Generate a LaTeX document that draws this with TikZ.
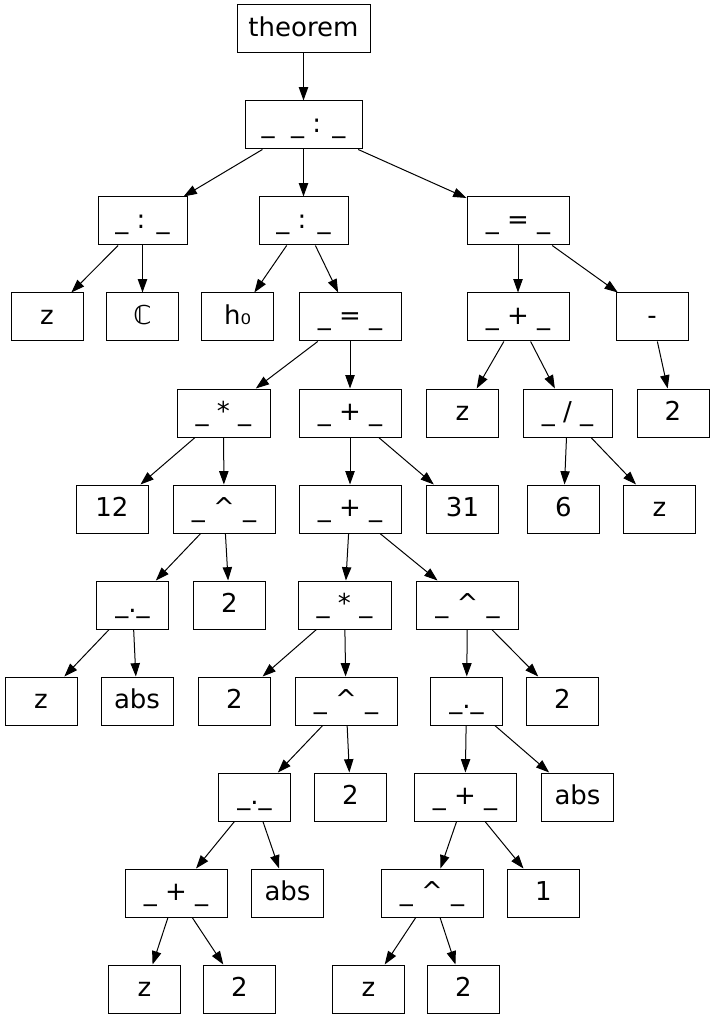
\documentclass[tikz,border=0pt]{standalone}
\usepackage{fontspec}
\setmainfont{DejaVu Sans}
\usetikzlibrary{arrows.meta}
\newcommand\us{\char"5F\relax}
\newcommand\crt{\char"5E\relax}
\tikzset{
  bx/.style={draw, line width=0.75pt, minimum height=36pt, inner sep=0pt,
    text height=15.6pt, text depth=4.3pt,
    font=\fontsize{19.5pt}{23pt}\selectfont, minimum width=54pt},
  w89/.style={minimum width=66.75pt},
  w93/.style={minimum width=69.75pt},
  w102/.style={minimum width=76.5pt},
  w117/.style={minimum width=87.75pt},
  w133/.style={minimum width=99.75pt},
  ed/.style={-{Triangle[length=10pt,width=7pt]}, line width=0.75pt}
}
\begin{document}
\begin{tikzpicture}[x=0.75pt,y=-0.75pt]
\useasboundingbox (0,0) rectangle (715,1019);
% row 0
\node[bx,w133] (th) at (303.5,29) {theorem};
% row 1
\node[bx,w117] (r1) at (303.5,125) {\us\ \ \us{} : \us};
% row 2
\node[bx,w89] (ca) at (142.5,221) {\us{} : \us};
\node[bx,w89] (cb) at (303.5,221) {\us{} : \us};
\node[bx,w102] (cc) at (518,221) {\us{} = \us};
% row 3
\node[bx] (z1) at (47,317) {z};
\node[bx] (cC) at (142.5,317) {ℂ};
\node[bx] (h0) at (237.5,317) {h₀};
\node[bx,w102] (eq1) at (350,317) {\us{} = \us};
\node[bx,w102] (pl1) at (518,317) {\us{} + \us};
\node[bx] (mi) at (652,317) {-};
% row 4
\node[bx,w93] (mu1) at (223.5,413) {\us{} * \us};
\node[bx,w102] (pl2) at (350,413) {\us{} + \us};
\node[bx] (z2) at (462.5,413) {z};
\node[bx,w89] (dv) at (567.5,413) {\us{} / \us};
\node[bx] (t1) at (673,413) {2};
% row 5
\node[bx] (n12) at (112,509) {12};
\node[bx,w102] (pw1) at (224,509) {\us{} \crt{} \us};
\node[bx,w102] (pl3) at (350,509) {\us{} + \us};
\node[bx] (n31) at (462.5,509) {31};
\node[bx] (n6) at (563.5,509) {6};
\node[bx] (z3) at (659.5,509) {z};
% row 6
\node[bx] (dt1) at (132.5,605) {\us.\us};
\node[bx] (t2) at (229.5,605) {2};
\node[bx,w93] (mu2) at (344.5,605) {\us{} * \us};
\node[bx,w102] (pw2) at (467.5,605) {\us{} \crt{} \us};
% row 7
\node[bx] (z4) at (41,701) {z};
\node[bx] (ab1) at (137,701) {abs};
\node[bx] (t3) at (234.5,701) {2};
\node[bx,w102] (pw3) at (346,701) {\us{} \crt{} \us};
\node[bx] (dt2) at (466.5,701) {\us.\us};
\node[bx] (t4) at (562.5,701) {2};
% row 8
\node[bx] (dt3) at (254.5,797) {\us.\us};
\node[bx] (t5) at (350.5,797) {2};
\node[bx,w102] (pl4) at (465,797) {\us{} + \us};
\node[bx] (ab2) at (577.5,797) {abs};
% row 9
\node[bx,w102] (pl5) at (176,893) {\us{} + \us};
\node[bx] (ab3) at (287.5,893) {abs};
\node[bx,w102] (pw4) at (432,893) {\us{} \crt{} \us};
\node[bx] (o1) at (543.5,893) {1};
% row 10
\node[bx] (z5) at (144.5,989) {z};
\node[bx] (t6) at (239.5,989) {2};
\node[bx] (z6) at (368.5,989) {z};
\node[bx] (t7) at (463.5,989) {2};
% edges
\draw[ed] (th) -- (r1);
\draw[ed] (r1) -- (ca);
\draw[ed] (r1) -- (cb);
\draw[ed] (r1) -- (cc);
\draw[ed] (ca) -- (z1);
\draw[ed] (ca) -- (cC);
\draw[ed] (cb) -- (h0);
\draw[ed] (cb) -- (eq1);
\draw[ed] (cc) -- (pl1);
\draw[ed] (cc) -- (mi);
\draw[ed] (eq1) -- (mu1);
\draw[ed] (eq1) -- (pl2);
\draw[ed] (pl1) -- (z2);
\draw[ed] (pl1) -- (dv);
\draw[ed] (mi) -- (t1);
\draw[ed] (mu1) -- (n12);
\draw[ed] (mu1) -- (pw1);
\draw[ed] (pl2) -- (pl3);
\draw[ed] (pl2) -- (n31);
\draw[ed] (dv) -- (n6);
\draw[ed] (dv) -- (z3);
\draw[ed] (pw1) -- (dt1);
\draw[ed] (pw1) -- (t2);
\draw[ed] (pl3) -- (mu2);
\draw[ed] (pl3) -- (pw2);
\draw[ed] (dt1) -- (z4);
\draw[ed] (dt1) -- (ab1);
\draw[ed] (mu2) -- (t3);
\draw[ed] (mu2) -- (pw3);
\draw[ed] (pw2) -- (dt2);
\draw[ed] (pw2) -- (t4);
\draw[ed] (pw3) -- (dt3);
\draw[ed] (pw3) -- (t5);
\draw[ed] (dt2) -- (pl4);
\draw[ed] (dt2) -- (ab2);
\draw[ed] (dt3) -- (pl5);
\draw[ed] (dt3) -- (ab3);
\draw[ed] (pl4) -- (pw4);
\draw[ed] (pl4) -- (o1);
\draw[ed] (pl5) -- (z5);
\draw[ed] (pl5) -- (t6);
\draw[ed] (pw4) -- (z6);
\draw[ed] (pw4) -- (t7);
\end{tikzpicture}
\end{document}
